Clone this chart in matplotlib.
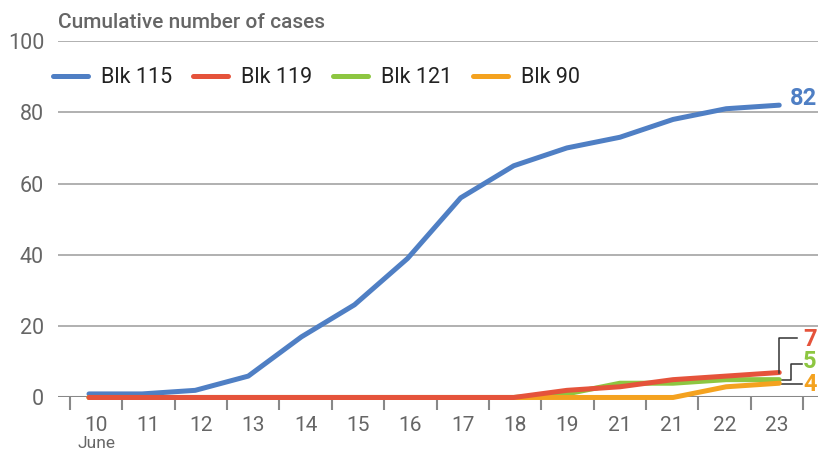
import numpy as np
import matplotlib.pyplot as plt

plt.rcParams['font.family'] = ['Roboto', 'DejaVu Sans']

# x-axis day labels (as printed on the original chart)
days = ['10', '11', '12', '13', '14', '15', '16', '17', '18', '19', '21', '21', '22', '23']

blk115 = [1, 1, 2, 6, 17, 26, 39, 56, 65, 70, 73, 78, 81, 82]
blk119 = [0, 0, 0, 0, 0, 0, 0, 0, 0, 2, 3, 5, 6, 7]
blk121 = [0, 0, 0, 0, 0, 0, 0, 0, 0, 1, 4, 4, 5, 5]
blk90 = [0, 0, 0, 0, 0, 0, 0, 0, 0, 0, 0, 0, 3, 4]

names = ['Blk 115', 'Blk 119', 'Blk 121', 'Blk 90']
colors = ['#4f7fc4', '#e5533b', '#8dc641', '#f4a21f']

GRAY = '#666666'

fig = plt.figure(figsize=(8.18, 4.54), dpi=100)
ax = fig.add_axes([0.0709, 0.1245, 0.9291, 0.7852])

x = np.arange(len(days))
series = [blk115, blk119, blk121, blk90]
# draw order: blue, green, orange, red on top (as in reference)
order = [0, 2, 3, 1]
handles = {}
for i in order:
    ln, = ax.plot(x, series[i], color=colors[i], lw=3.6, solid_capstyle='round',
                  solid_joinstyle='round', clip_on=False, zorder=3 + (i == 1), label=names[i])
    handles[i] = ln

ax.set_xlim(-0.584, 13.73)
ax.set_ylim(0, 100)

# grid
for yv in [20, 40, 60, 80, 100]:
    ax.axhline(yv, color='#aaaaaa', lw=1.3, zorder=1)
ax.axhline(0, color='#888888', lw=2.2, zorder=2)

for s in ax.spines.values():
    s.set_visible(False)

ax.set_yticks([0, 20, 40, 60, 80, 100])
ax.tick_params(axis='y', length=0, labelsize=15.5, labelcolor=GRAY, pad=10)

tick_pos = np.linspace(-0.36, 13.45, len(days) + 1)
ax.set_xticks(tick_pos)
ax.set_xticklabels([])
ax.tick_params(axis='x', length=9, width=1.5, color='#888888', direction='out')
label_pos = (tick_pos[:-1] + tick_pos[1:]) / 2
for p, d in zip(label_pos, days):
    ax.text(p, -5.3, d, ha='center', va='top', fontsize=15, color=GRAY, clip_on=False)
ax.text(label_pos[0], -10.9, 'June', ha='center', va='top', fontsize=12.5, color=GRAY, clip_on=False)

# title
fig.text(0.0709, 0.951, 'Cumulative number of cases', ha='left', va='center',
         fontsize=15, color=GRAY, fontweight='medium')

# legend
ax.legend([handles[i] for i in range(4)], names, loc='upper left', bbox_to_anchor=(-0.018, 0.95),
          ncol=4, frameon=False, fontsize=15.5, handlelength=1.65, handletextpad=0.6,
          columnspacing=0.95, labelcolor='#222222', borderaxespad=0)

# end labels
last = len(days) - 1
ax.text(last + 0.2, 84, str(blk115[-1]), color=colors[0], fontsize=17, fontweight='bold',
        ha='left', va='center', clip_on=False)
ax.text(last + 0.45, 16.2, str(blk119[-1]), color=colors[1], fontsize=17, fontweight='bold',
        ha='left', va='center', clip_on=False)
ax.text(last + 0.45, 10.0, str(blk121[-1]), color=colors[2], fontsize=17, fontweight='bold',
        ha='left', va='center', clip_on=False)
ax.text(last + 0.45, 3.6, str(blk90[-1]), color=colors[3], fontsize=17, fontweight='bold',
        ha='left', va='center', clip_on=False)

# connector lines
ax.plot([last, last, last + 0.34], [blk119[-1], 16.8, 16.8], color='#333333', lw=1.1,
        clip_on=False, zorder=5)
ax.plot([last, last + 0.22, last + 0.22, last + 0.42], [blk121[-1], blk121[-1], 9.5, 9.5],
        color='#333333', lw=1.1, clip_on=False, zorder=2.5)
ax.plot([last, last + 0.42], [3.8, 3.8], color='#333333', lw=1.1, clip_on=False, zorder=2.5)

fig.savefig('out.png', dpi=100)
